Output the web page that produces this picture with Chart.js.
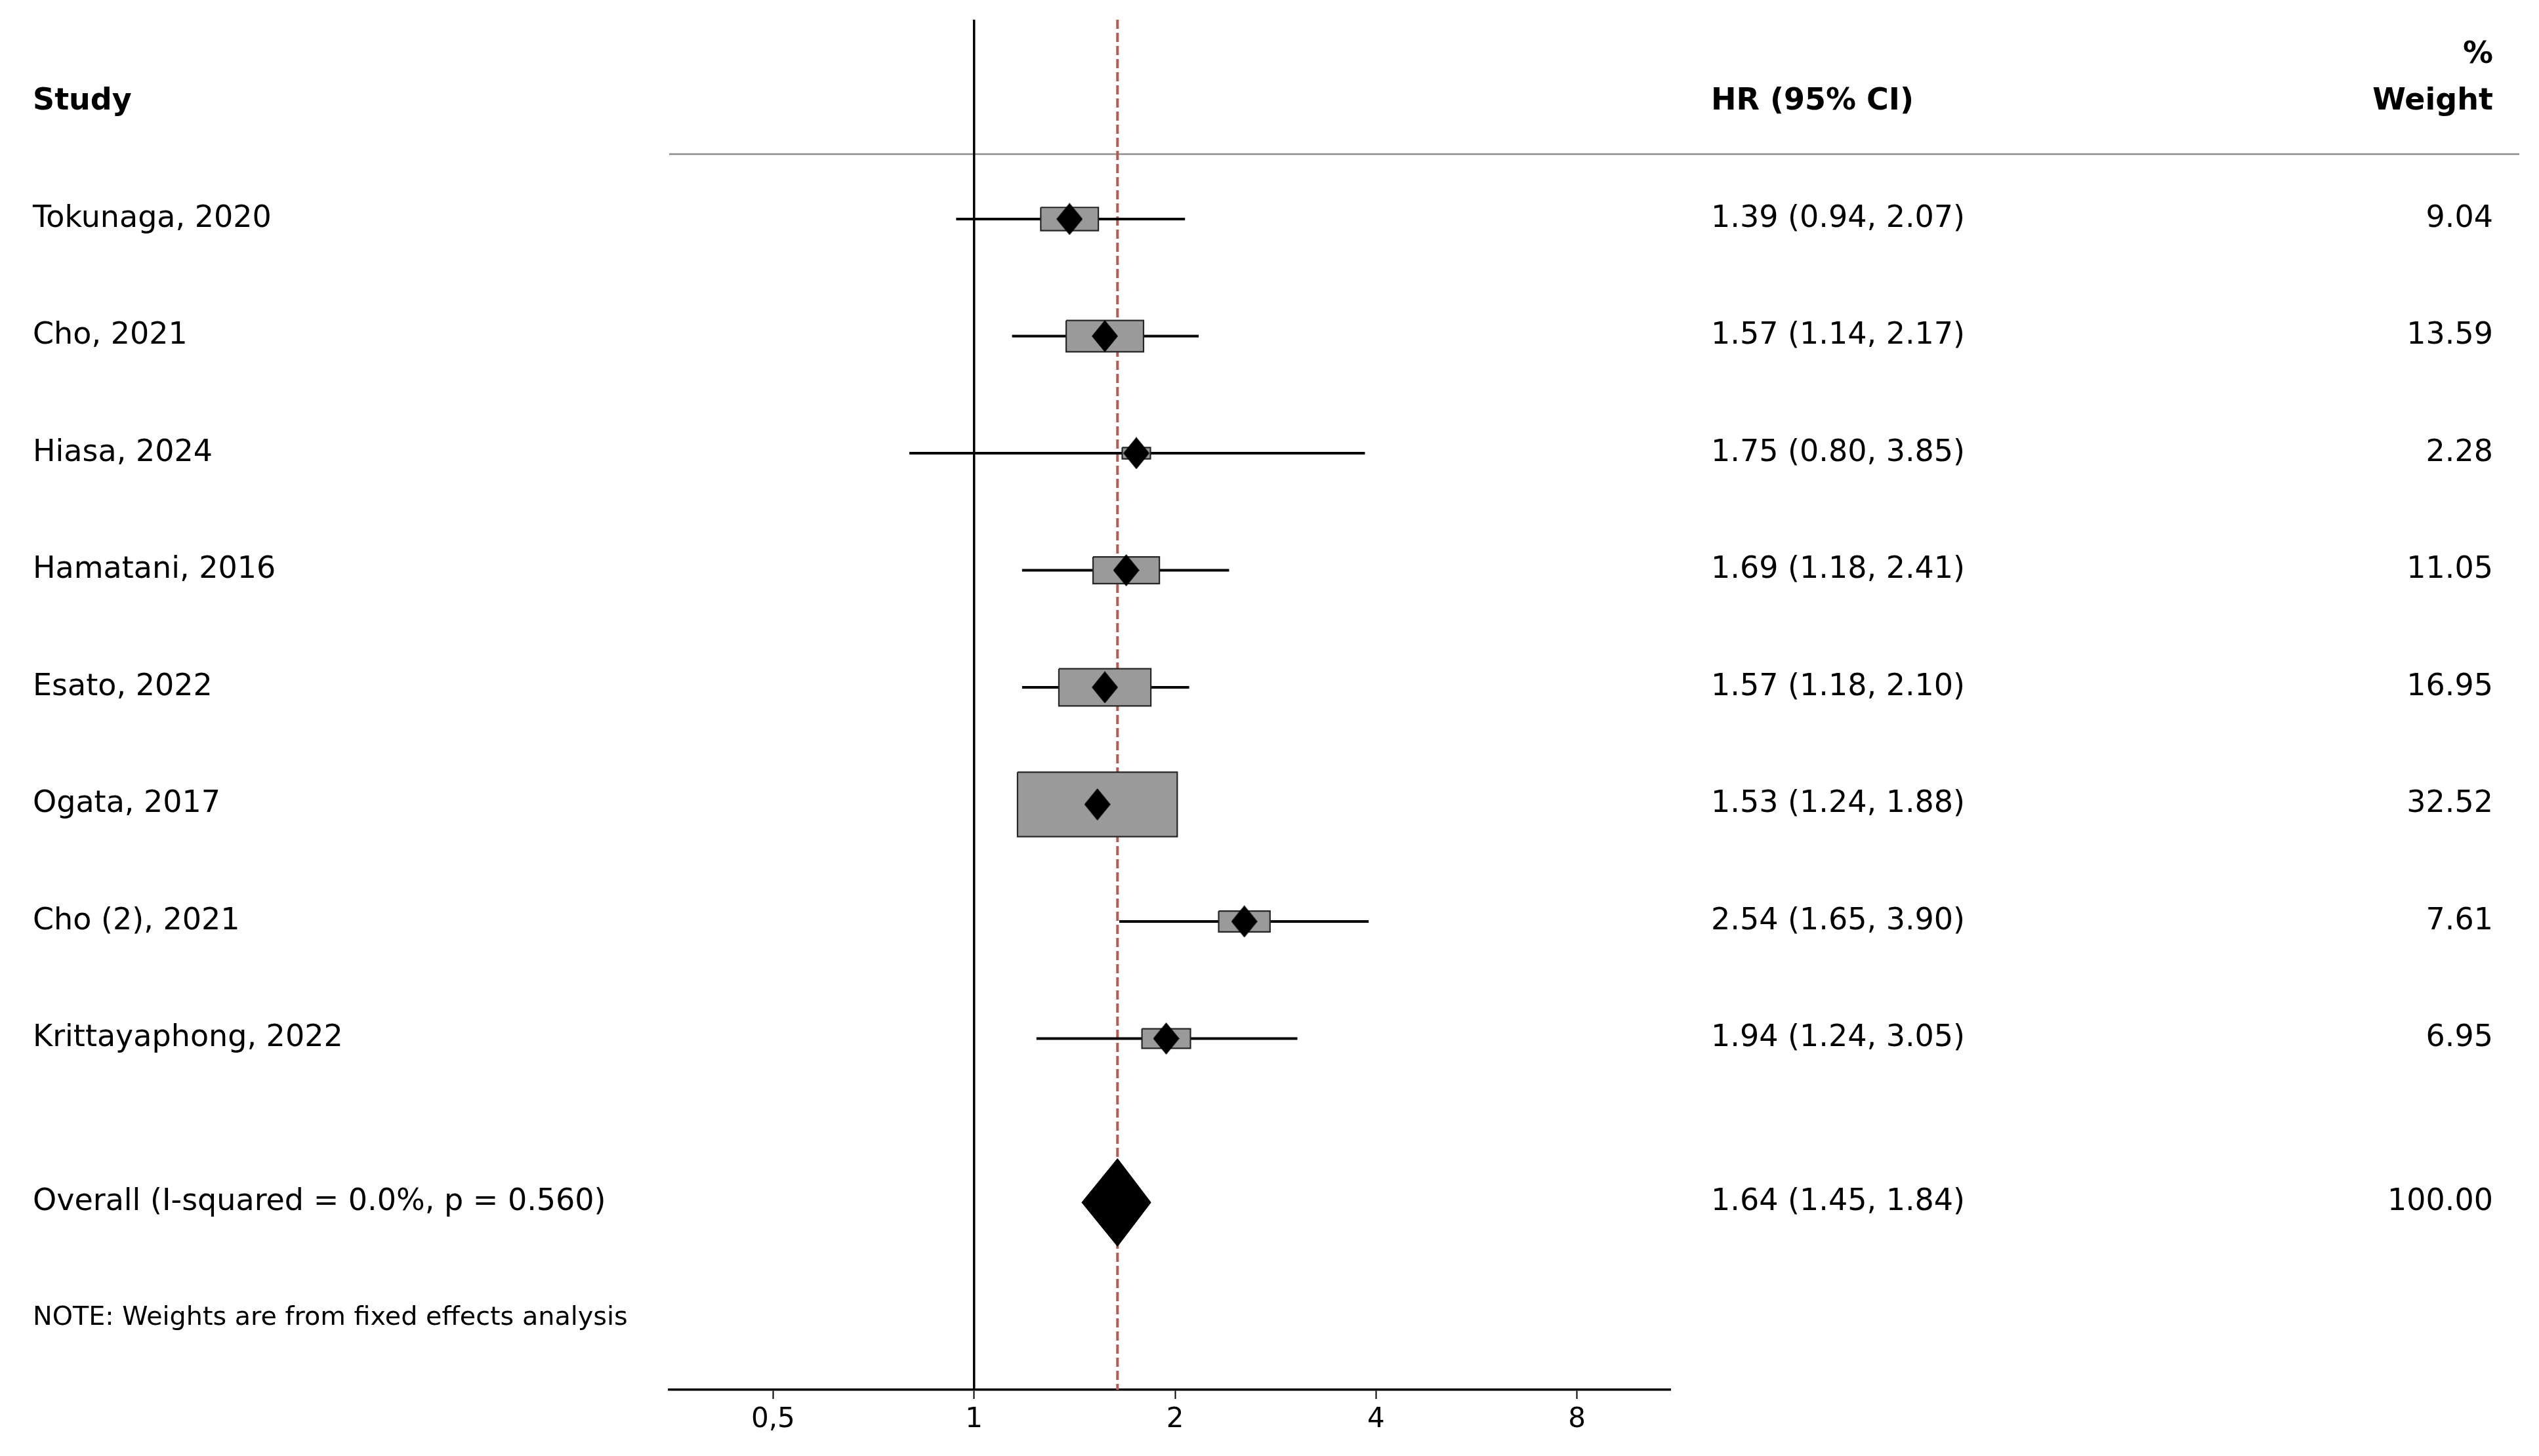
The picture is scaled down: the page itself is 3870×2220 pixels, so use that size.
<!DOCTYPE html>
<html>
<head>
<meta charset="utf-8">
<script src="https://cdn.jsdelivr.net/npm/chart.js@4.4.1/dist/chart.umd.min.js"></script>
<style>
  html, body { margin: 0; padding: 0; background: #fff; }
  #wrap { width: 3870px; height: 2220px; }
</style>
</head>
<body>
<div id="wrap"><canvas id="forest"></canvas></div>
<script>
// Forest plot of hazard ratios with a fixed-effects pooled estimate

const studies = ["Tokunaga, 2020", "Cho, 2021", "Hiasa, 2024", "Hamatani, 2016",
                 "Esato, 2022", "Ogata, 2017", "Cho (2), 2021", "Krittayaphong, 2022"];
const hr      = [1.39, 1.57, 1.75, 1.69, 1.57, 1.53, 2.54, 1.94];
const ciLow   = [0.94, 1.14, 0.80, 1.18, 1.18, 1.24, 1.65, 1.24];
const ciHigh  = [2.07, 2.17, 3.85, 2.41, 2.10, 1.88, 3.90, 3.05];
const weights = [9.04, 13.59, 2.28, 11.05, 16.95, 32.52, 7.61, 6.95];

const overallLabel = "Overall (I-squared = 0.0%, p = 0.560)";
const overallHR = 1.64;
const overallLow = 1.45;
const overallHigh = 1.84;
const overallWeight = 100.00;
const noteText = "NOTE: Weights are from fixed effects analysis";

const tickValues = [0.5, 1, 2, 4, 8];
const tickLabels = ["0,5", "1", "2", "4", "8"];

const FONT = '"DejaVu Sans"';
const Y_TOP = -1.703;
const Y_BOTTOM = 10;
const OVERALL_ROW = 8.4;
const NOTE_ROW = 9.4;
const HEADER_ROW = -1.0;
const TEXT_SHIFT = 0;
const TEXT_LEFT = 50;

// box side in data units (log-x and row-y), grows with study weight
function boxSide(w) {
    return 0.063 + 0.015 * w;
}

// study point marker
const diamond = document.createElement("canvas");
diamond.width = 40;
diamond.height = 49;
const dctx = diamond.getContext("2d");
dctx.beginPath();
dctx.moveTo(20, 0);
dctx.lineTo(40, 24.5);
dctx.lineTo(20, 49);
dctx.lineTo(0, 24.5);
dctx.closePath();
dctx.fillStyle = "#000";
dctx.fill();

const datasets = [];

datasets.push({
    data: [{x: 1, y: Y_TOP}, {x: 1, y: Y_BOTTOM}],
    borderColor: "#000", borderWidth: 3.5, order: 6
});
datasets.push({
    data: [{x: overallHR, y: Y_TOP}, {x: overallHR, y: Y_BOTTOM}],
    borderColor: "#b85a50", borderWidth: 4, borderDash: [14, 6], order: 5
});

studies.forEach((name, i) => {
    datasets.push({
        data: [{x: ciLow[i], y: i}, {x: ciHigh[i], y: i}],
        borderColor: "#000", borderWidth: 4, order: 4
    });
    const half = boxSide(weights[i]) / 2;
    const x0 = hr[i] * Math.exp(-half);
    const x1 = hr[i] * Math.exp(half);
    datasets.push({
        data: [{x: x0, y: i - half}, {x: x1, y: i - half}, {x: x1, y: i + half},
               {x: x0, y: i + half}, {x: x0, y: i - half}],
        borderColor: "#262626", borderWidth: 2.2, backgroundColor: "#9a9a9a",
        fill: "shape", order: 3
    });
});

datasets.push({
    data: studies.map((name, i) => ({x: hr[i], y: i})),
    showLine: false, pointStyle: diamond, pointRadius: 20, order: 1
});

const dh = 0.375;
datasets.push({
    data: [{x: overallLow, y: OVERALL_ROW}, {x: overallHR, y: OVERALL_ROW - dh},
           {x: overallHigh, y: OVERALL_ROW}, {x: overallHR, y: OVERALL_ROW + dh},
           {x: overallLow, y: OVERALL_ROW}],
    borderColor: "#000", borderWidth: 1, backgroundColor: "#000",
    fill: "shape", order: 2
});

const forestText = {
    id: "forestText",
    beforeDatasetsDraw(chart) {
        const {ctx, chartArea, scales} = chart;
        const y = scales.y.getPixelForValue(-0.555);
        ctx.save();
        ctx.strokeStyle = "#8c8c8c";
        ctx.lineWidth = 2.5;
        ctx.beginPath();
        ctx.moveTo(chartArea.left, y);
        ctx.lineTo(3840, y);
        ctx.stroke();
        ctx.restore();
    },
    afterDraw(chart) {
        const {ctx, scales} = chart;
        const py = v => scales.y.getPixelForValue(v) + TEXT_SHIFT;
        ctx.save();
        ctx.fillStyle = "#000";
        ctx.textBaseline = "middle";

        ctx.font = "bold 46px " + FONT;
        ctx.textAlign = "left";
        ctx.fillText("Study", TEXT_LEFT, py(HEADER_ROW));
        ctx.fillText("HR (95% CI)", 2608, py(HEADER_ROW));
        ctx.textAlign = "right";
        ctx.fillText("%", 3800, py(-1.4));
        ctx.fillText("Weight", 3800, py(HEADER_ROW));

        ctx.font = "46px " + FONT;
        studies.forEach((name, i) => {
            ctx.textAlign = "left";
            ctx.fillText(name, TEXT_LEFT, py(i));
            ctx.fillText(hr[i].toFixed(2) + " (" + ciLow[i].toFixed(2) + ", " + ciHigh[i].toFixed(2) + ")", 2608, py(i));
            ctx.textAlign = "right";
            ctx.fillText(weights[i].toFixed(2), 3800, py(i));
        });
        ctx.textAlign = "left";
        ctx.fillText(overallLabel, TEXT_LEFT, py(OVERALL_ROW));
        ctx.fillText(overallHR.toFixed(2) + " (" + overallLow.toFixed(2) + ", " + overallHigh.toFixed(2) + ")", 2608, py(OVERALL_ROW));
        ctx.textAlign = "right";
        ctx.fillText(overallWeight.toFixed(2), 3800, py(OVERALL_ROW));

        ctx.font = "39.7px " + FONT;
        ctx.textAlign = "left";
        ctx.fillText(noteText, TEXT_LEFT, py(NOTE_ROW) - 2);
        ctx.restore();
    }
};

new Chart(document.getElementById("forest"), {
    type: "scatter",
    data: {datasets},
    options: {
        responsive: true,
        maintainAspectRatio: false,
        animation: false,
        events: [],
        layout: {padding: {left: 1020, right: 1324, top: 30, bottom: 0}},
        datasets: {
            scatter: {showLine: true, pointRadius: 0, tension: 0}
        },
        elements: {
            line: {borderJoinStyle: "miter", borderCapStyle: "butt"}
        },
        plugins: {
            legend: {display: false},
            tooltip: {enabled: false}
        },
        scales: {
            x: {
                type: "logarithmic",
                bounds: "data",
                min: 0.3494,
                max: 11.04,
                afterBuildTicks(scale) {
                    scale.ticks = tickValues.map(v => ({value: v}));
                },
                afterFit(scale) {
                    scale.height = 101;
                },
                ticks: {
                    autoSkip: false,
                    maxRotation: 0,
                    padding: 7,
                    color: "#000",
                    font: {family: "DejaVu Sans", size: 42},
                    callback: (value, index) => tickLabels[index]
                },
                grid: {
                    display: true,
                    drawOnChartArea: false,
                    drawTicks: true,
                    tickLength: 14,
                    tickWidth: 2,
                    tickColor: "#000"
                },
                border: {display: true, color: "#000", width: 3.5}
            },
            y: {
                type: "linear",
                display: false,
                reverse: true,
                min: Y_TOP,
                max: Y_BOTTOM
            }
        }
    },
    plugins: [forestText]
});
</script>
</body>
</html>
